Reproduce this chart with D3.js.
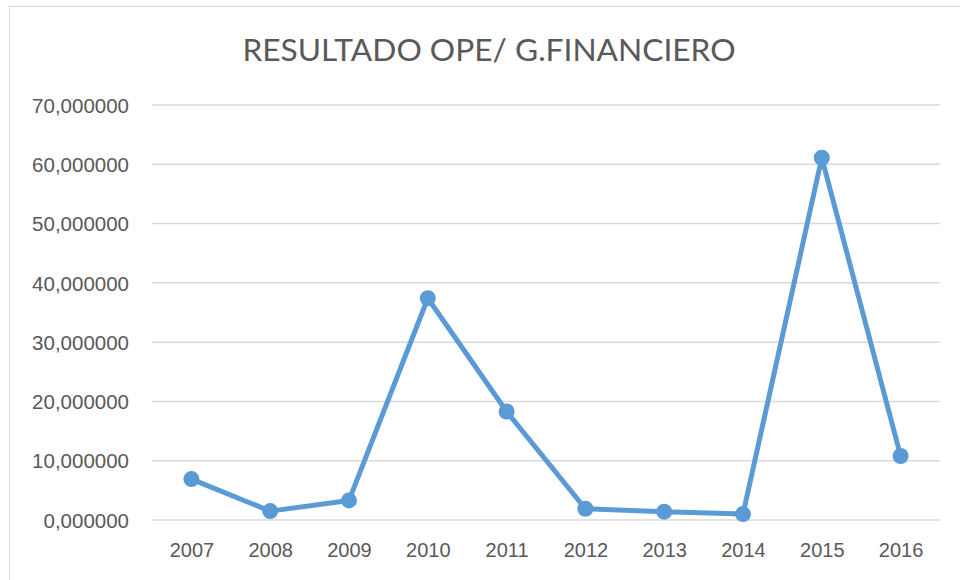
<!DOCTYPE html>
<html>
<head>
<meta charset="utf-8">
<script src="https://cdnjs.cloudflare.com/ajax/libs/d3/7.8.5/d3.min.js"></script>
<style>
  body { margin: 0; background: #fff; }
  svg { display: block; font-family: Lato, "Open Sans", sans-serif; }
</style>
</head>
<body>
<svg id="chart" width="960" height="580"></svg>
<script>
// data
var years = ['2007', '2008', '2009', '2010', '2011', '2012', '2013', '2014', '2015', '2016'];
var values = [6.9, 1.5, 3.3, 37.4, 18.3, 1.9, 1.4, 1.0, 61.1, 10.8];
var yTicks = [0, 10, 20, 30, 40, 50, 60, 70];
var title = 'RESULTADO OPE/ G.FINANCIERO';

var svg = d3.select('#chart');
var margin = { top: 105, right: 20, bottom: 60, left: 152 };
var plotRight = 940, plotBottom = 520;

// chart frame (runs off the right and bottom edge)
svg.append('rect')
    .attr('x', 9.5).attr('y', 6.5)
    .attr('width', 1000).attr('height', 1000)
    .style('fill', 'none')
    .style('stroke', '#d9d9d9')
    .style('stroke-width', 1);

var x = d3.scalePoint()
    .domain(years)
    .range([margin.left, plotRight])
    .padding(0.5);

var y = d3.scaleLinear()
    .domain([0, 70])
    .range([plotBottom, margin.top]);

var fmt = function(d) { return d3.format('.6f')(d).replace('.', ','); };

// gridlines
svg.append('g').selectAll('line')
    .data(yTicks)
    .enter().append('line')
    .attr('x1', margin.left).attr('x2', plotRight)
    .attr('y1', function(d) { return y(d); })
    .attr('y2', function(d) { return y(d); })
    .style('stroke', '#d9d9d9')
    .style('stroke-width', 1.5);

// y axis labels
var yAxis = d3.axisLeft(y).tickValues(yTicks).tickFormat(fmt).tickSize(0).tickPadding(0);
var yg = svg.append('g')
    .attr('transform', 'translate(129,0)')
    .call(yAxis);
yg.select('.domain').remove();
yg.selectAll('text')
    .style('font-size', '20.5px')
    .style('fill', '#595959')
    .attr('dy', '0.35em');

// x axis labels
var xAxis = d3.axisBottom(x).tickSize(0).tickPadding(0);
var xg = svg.append('g')
    .attr('transform', 'translate(0,' + (plotBottom + 30) + ')')
    .call(xAxis);
xg.select('.domain').remove();
xg.selectAll('text')
    .style('font-size', '20px')
    .style('fill', '#595959')
    .attr('dy', '0.35em');

// title
svg.append('text')
    .attr('x', 489).attr('y', 50)
    .attr('text-anchor', 'middle')
    .attr('dy', '0.35em')
    .style('font-size', '31.7px')
    .style('fill', '#595959')
    .text(title);

// line + markers
var line = d3.line()
    .x(function(d, i) { return x(years[i]); })
    .y(function(d) { return y(d); });

svg.append('path')
    .datum(values)
    .attr('d', line)
    .style('fill', 'none')
    .style('stroke', '#5b9bd5')
    .style('stroke-width', 5)
    .style('stroke-linejoin', 'round');

svg.append('g').selectAll('circle')
    .data(values)
    .enter().append('circle')
    .attr('cx', function(d, i) { return x(years[i]); })
    .attr('cy', function(d) { return y(d); })
    .attr('r', 8)
    .style('fill', '#5b9bd5');
</script>
</body>
</html>
